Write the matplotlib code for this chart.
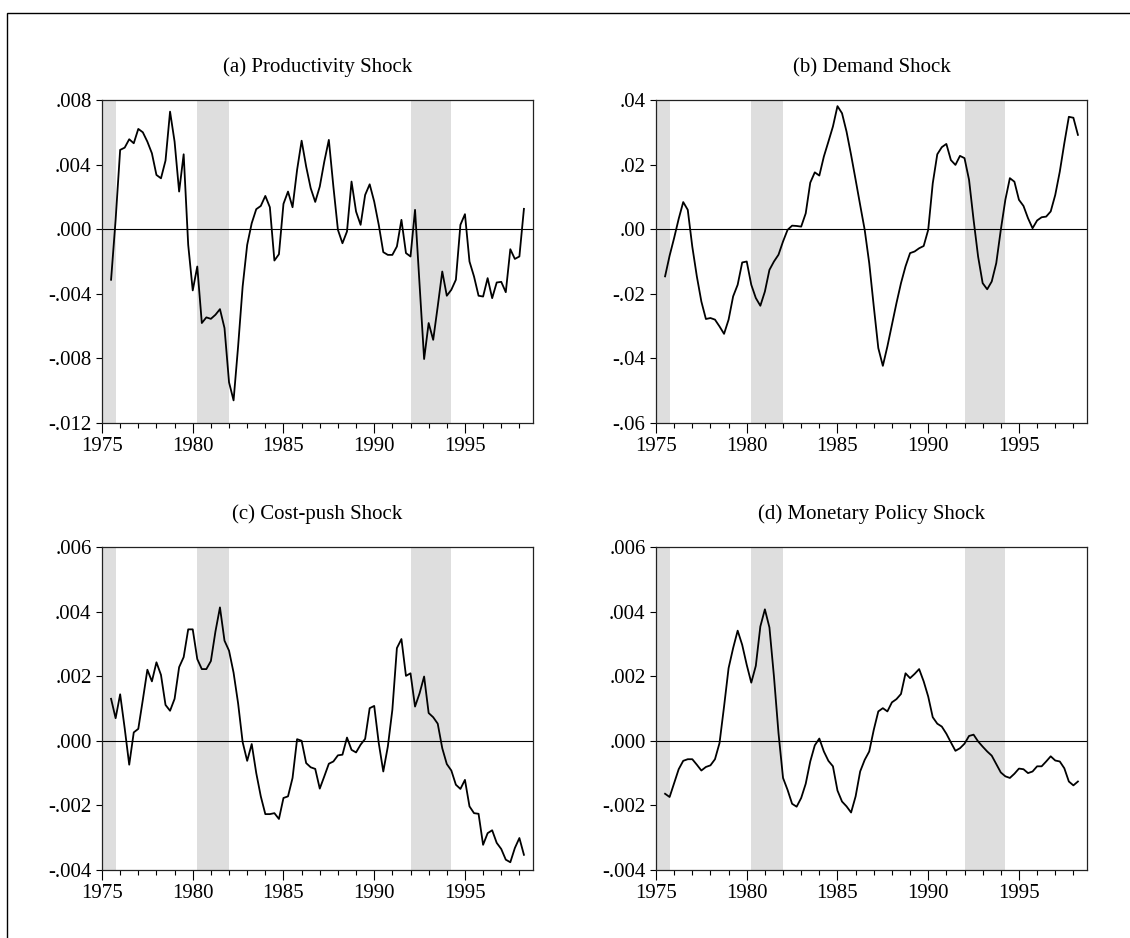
import numpy as np
import matplotlib
matplotlib.use('Agg')
import matplotlib.pyplot as plt
from matplotlib.patches import Rectangle
from matplotlib.ticker import FuncFormatter, MultipleLocator

plt.rcParams['font.family'] = ['Liberation Serif', 'DejaVu Serif']
plt.rcParams['font.size'] = 15

# quarterly observations, 1975Q3 .. 1998Q2
quarters = np.arange(1975.5, 1998.26, 0.25)

productivity = [
    -0.00313, 0.00058, 0.00491, 0.00505, 0.00557, 0.00532, 0.00621, 0.00600, 0.00542, 0.00470,
    0.00336, 0.00315, 0.00425, 0.00728, 0.00542, 0.00233, 0.00464, -0.00097, -0.00379, -0.00231,
    -0.00581, -0.00546, -0.00555, -0.00530, -0.00495, -0.00612, -0.00948, -0.01060, -0.00726, -0.00355,
    -0.00097, 0.00037, 0.00124, 0.00144, 0.00206, 0.00136, -0.00194, -0.00155, 0.00157, 0.00233,
    0.00136, 0.00367, 0.00548, 0.00388, 0.00254, 0.00169, 0.00264, 0.00419, 0.00553, 0.00264,
    -0.00004, -0.00087, -0.00014, 0.00295, 0.00109, 0.00027, 0.00212, 0.00278, 0.00171, 0.00027,
    -0.00142, -0.00159, -0.00159, -0.00107, 0.00058, -0.00148, -0.00169, 0.00120, -0.00344, -0.00804,
    -0.00581, -0.00685, -0.00478, -0.00262, -0.00412, -0.00375, -0.00313, 0.00027, 0.00093, -0.00200,
    -0.00293, -0.00412, -0.00417, -0.00303, -0.00427, -0.00330, -0.00326, -0.00390, -0.00124, -0.00184,
    -0.00169, 0.00126]

demand = [
    -0.0146, -0.0082, -0.0027, 0.0032, 0.0084, 0.0060, -0.0054, -0.0146, -0.0224, -0.0278,
    -0.0275, -0.0280, -0.0301, -0.0324, -0.0280, -0.0208, -0.0172, -0.0103, -0.0100, -0.0172,
    -0.0213, -0.0237, -0.0193, -0.0126, -0.0100, -0.0079, -0.0038, -0.0002, 0.0011, 0.0010,
    0.0008, 0.0049, 0.0144, 0.0176, 0.0166, 0.0225, 0.0271, 0.0318, 0.0381, 0.0359,
    0.0302, 0.0230, 0.0153, 0.0075, -0.0002, -0.0105, -0.0239, -0.0368, -0.0423, -0.0363,
    -0.0296, -0.0229, -0.0167, -0.0115, -0.0074, -0.0069, -0.0059, -0.0052, -0.0002, 0.0142,
    0.0232, 0.0254, 0.0264, 0.0214, 0.0199, 0.0227, 0.0220, 0.0153, 0.0029, -0.0085,
    -0.0167, -0.0186, -0.0162, -0.0105, -0.0002, 0.0091, 0.0158, 0.0147, 0.0091, 0.0072,
    0.0034, 0.0003, 0.0027, 0.0037, 0.0039, 0.0055, 0.0106, 0.0178, 0.0266, 0.0348,
    0.0345, 0.0292]

cost_push = [
    0.00130, 0.00070, 0.00144, 0.00039, -0.00074, 0.00026, 0.00037, 0.00127, 0.00220, 0.00184,
    0.00243, 0.00204, 0.00111, 0.00093, 0.00130, 0.00228, 0.00259, 0.00345, 0.00345, 0.00253,
    0.00222, 0.00222, 0.00247, 0.00338, 0.00413, 0.00310, 0.00279, 0.00211, 0.00116, -0.00004,
    -0.00062, -0.00010, -0.00100, -0.00172, -0.00227, -0.00227, -0.00224, -0.00242, -0.00177, -0.00172,
    -0.00115, 0.00005, 0.00000, -0.00069, -0.00082, -0.00087, -0.00148, -0.00110, -0.00071, -0.00064,
    -0.00045, -0.00043, 0.00010, -0.00028, -0.00036, -0.00012, 0.00006, 0.00101, 0.00108, -0.00007,
    -0.00095, -0.00018, 0.00096, 0.00287, 0.00315, 0.00201, 0.00209, 0.00106, 0.00147, 0.00199,
    0.00086, 0.00073, 0.00053, -0.00023, -0.00072, -0.00092, -0.00136, -0.00149, -0.00121, -0.00203,
    -0.00224, -0.00226, -0.00322, -0.00286, -0.00277, -0.00316, -0.00335, -0.00368, -0.00376, -0.00332,
    -0.00301, -0.00353]

monetary = [
    -0.00164, -0.00174, -0.00131, -0.00088, -0.00062, -0.00057, -0.00057, -0.00074, -0.00092, -0.00081,
    -0.00076, -0.00057, -0.00007, 0.00106, 0.00225, 0.00287, 0.00341, 0.00297, 0.00235, 0.00180,
    0.00232, 0.00354, 0.00407, 0.00351, 0.00199, 0.00024, -0.00115, -0.00152, -0.00195, -0.00204,
    -0.00177, -0.00133, -0.00064, -0.00014, 0.00007, -0.00033, -0.00062, -0.00079, -0.00154, -0.00188,
    -0.00203, -0.00222, -0.00172, -0.00095, -0.00059, -0.00033, 0.00034, 0.00091, 0.00101, 0.00091,
    0.00119, 0.00129, 0.00145, 0.00209, 0.00194, 0.00207, 0.00222, 0.00184, 0.00137, 0.00073,
    0.00053, 0.00044, 0.00022, -0.00005, -0.00031, -0.00023, -0.00009, 0.00015, 0.00019, -0.00002,
    -0.00018, -0.00033, -0.00046, -0.00072, -0.00098, -0.00110, -0.00115, -0.00102, -0.00086, -0.00088,
    -0.00100, -0.00095, -0.00079, -0.00079, -0.00064, -0.00048, -0.00061, -0.00064, -0.00085, -0.00126,
    -0.00138, -0.00126]

titles = ['(a) Productivity Shock', '(b) Demand Shock',
          '(c) Cost-push Shock', '(d) Monetary Policy Shock']
series = [productivity, demand, cost_push, monetary]
y_limits = [(-0.012, 0.008), (-0.06, 0.04), (-0.004, 0.006), (-0.004, 0.006)]
y_steps = [0.004, 0.02, 0.002, 0.002]
y_decimals = [3, 2, 3, 3]

# shaded periods (start, end)
recessions = [(1975.0, 1975.75), (1980.25, 1982.0), (1992.0, 1994.25)]

W, H = 1130, 938
fig = plt.figure(figsize=(W / 100, H / 100), dpi=100)

# outer frame (only top and left edges visible)
fig.add_artist(Rectangle((7 / W, -0.2), 2, (H - 13) / H + 0.2, transform=fig.transFigure,
                         fill=False, edgecolor='black', linewidth=1))

# axes boxes in pixels: left, top, right, bottom
boxes = [(102, 100, 533, 423), (656, 100, 1087, 423),
         (102, 547, 533, 870), (656, 547, 1087, 870)]


def make_fmt(dec):
    def fmt(v, pos):
        s = f'{round(v, dec) + 0.0:.{dec}f}'
        return s.replace('0.', '.', 1)
    return FuncFormatter(fmt)


for i, (l, t, r, b) in enumerate(boxes):
    ax = fig.add_axes([l / W, (H - b) / H, (r - l) / W, (b - t) / H])

    for s0, s1 in recessions:
        ax.axvspan(s0, s1, color='#dedede', lw=0, zorder=0)
    ax.axhline(0, color='black', linewidth=0.8, zorder=1)
    ax.plot(quarters, series[i], color='black', linewidth=1.3, zorder=3)

    ax.set_xlim(1975.0, 1998.75)
    ax.set_ylim(*y_limits[i])
    ax.set_xticks([1975, 1980, 1985, 1990, 1995])
    ax.xaxis.set_minor_locator(MultipleLocator(1))
    ax.yaxis.set_major_locator(MultipleLocator(y_steps[i]))
    ax.yaxis.set_major_formatter(make_fmt(y_decimals[i]))

    ax.tick_params(axis='x', which='major', direction='out', length=7, width=0.8, pad=3)
    ax.tick_params(axis='x', which='minor', direction='out', length=3.6, width=0.8)
    ax.tick_params(axis='y', which='major', direction='out', length=4.5, width=0.8, pad=3)
    for sp in ax.spines.values():
        sp.set_linewidth(0.9)
        sp.set_color('#222222')

    ax.set_title(titles[i], pad=20, fontsize=15)

fig.savefig('out.png', dpi=100)
